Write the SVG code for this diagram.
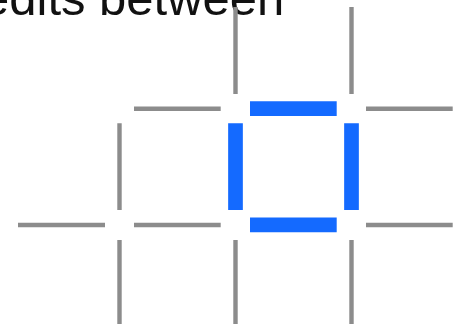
<svg xmlns="http://www.w3.org/2000/svg" width="464" height="324" viewBox="0 0 464 324">
<style>
.g{stroke:#8c8c8c;stroke-width:4.4;fill:none}
.b{stroke:#146aff;stroke-width:14.7;fill:none}
.t{font-family:"Liberation Sans",Arial,sans-serif;font-size:49px;fill:#111}
</style>
<rect width="464" height="324" fill="#fff"/>
<text class="t" x="-18" y="15">edits between</text>
<g id="connectors">
<path class="g" d="M235.5 7V94M351.5 7V94M134 108.7H220.7M366 108.7H452.7M119.5 123.3V210M18 225H105M134 225H220.7M366 225H452.7M119.5 240V327M235.5 240V327M351.5 240V327"/>
</g>
<g id="square">
<path class="b" d="M250 108.7H336.7M250 224.8H336.7M235.5 123.3V210M351.5 123.3V210"/>
</g>
</svg>
